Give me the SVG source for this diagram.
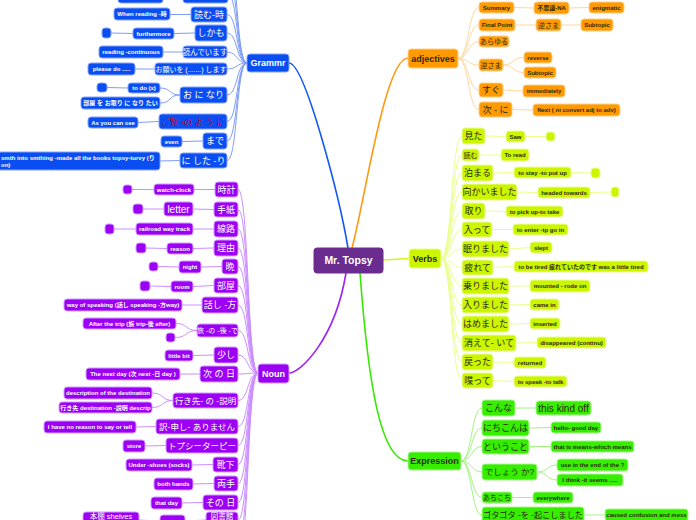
<svg xmlns="http://www.w3.org/2000/svg" width="696" height="520" viewBox="0 0 696 520">
<style>
text{font-family:"Liberation Sans","Noto Sans CJK JP",sans-serif;text-anchor:middle}
rect{rx:3;ry:3;stroke-width:1}
.gb{fill:#0a4ef2;stroke:#84a2fa}
.nb{fill:#9b00f5;stroke:#d49bff}
.ab{fill:#ff9a00;stroke:#ffd08a}
.vb{fill:#ccf500;stroke:#ecff99}
.eb{fill:#38ee00;stroke:#a8f790}
.cb{fill:#6a2c8e;stroke:#6a2c8e}
.w{fill:#fff}.d{fill:#2b2b10}.r{fill:#d8002a}
.s{font-size:6px;font-weight:bold}
.m{font-size:7.5px}
.l{font-size:9px}
.L{font-size:10px}
.h{font-size:9px;font-weight:bold}
.lc{fill:none;stroke-width:1}
.lg{stroke:#7f9cf6}.ln{stroke:#cc8eff}.la{stroke:#ffd69c}.lv{stroke:#eaff8c}.le{stroke:#a2f57e}
.mb{fill:none;stroke-width:1.6}
</style>
<g id="connectors">
<path class="mb" stroke="#1456f5" d="M348,248 C340,200 305,63 289,63"/>
<path class="mb" stroke="#ff9a10" d="M352,248 C365,200 385,58 408,58"/>
<path class="mb" stroke="#a020f5" d="M346,273 C335,340 300,373 289,373"/>
<path class="mb" stroke="#38e800" d="M360,273 C368,380 380,461 408,461"/>
<path class="mb" stroke="#d4f520" d="M383,260 L409,258.5"/>
<g class="lc lg">
<path d="M247,63 C236,63 238,-45 227,-45"/><path d="M247,63 C236,63 238,-25 227,-25"/><path d="M247,63 C236,63 238,-5 228,-5"/>
<path d="M247,63 C236,63 238,14.5 227,14.5"/><path d="M247,63 C236,63 238,33 227,33"/><path d="M247,63 C236,63 238,52 227,52"/><path d="M247,63 C236,63 238,69 227,69"/><path d="M247,63 C236,63 238,95 227,95"/><path d="M247,63 C236,63 238,121.5 227,121.5"/><path d="M247,63 C236,63 238,141 227,141"/><path d="M247,63 C236,63 238,160.5 227,160.5"/>
<path d="M183,-5 L163,-3.5"/><path d="M191,14.5 L170,14.5"/><path d="M195,33 L174,33.5"/><path d="M133,33.5 L111,33"/><path d="M183,52 L163,52"/><path d="M155,69 L135,69"/>
<path d="M180,95 C168,95 172,88 160,88"/><path d="M180,95 C168,95 172,103 160,103"/><path d="M128,88 L107,87.5"/>
<path d="M159,121.5 L138,122.5"/><path d="M203,141 L182,141.5"/><path d="M180,160.5 L160,161"/>
</g>
<g class="lc ln">
<path d="M258,373 C247,373 249,189.5 238,189.5"/><path d="M258,373 C247,373 249,209.5 238,209.5"/><path d="M258,373 C247,373 249,229 238,229"/><path d="M258,373 C247,373 249,248 238,248"/><path d="M258,373 C247,373 249,266.5 238,266.5"/><path d="M258,373 C247,373 249,285.5 238,285.5"/><path d="M258,373 C247,373 249,305 238,305"/><path d="M258,373 C247,373 249,330.5 238,330.5"/><path d="M258,373 C247,373 249,355 238,355"/><path d="M258,373 C247,373 249,374 238,374"/><path d="M258,373 C247,373 249,400.5 238,400.5"/><path d="M258,373 C247,373 249,426.5 238,426.5"/><path d="M258,373 C247,373 249,445.5 238,445.5"/><path d="M258,373 C247,373 249,464.5 238,464.5"/><path d="M258,373 C247,373 249,483.5 238,483.5"/><path d="M258,373 C247,373 249,502.5 238,502.5"/><path d="M258,373 C247,373 249,520 238,520"/><path d="M258,373 C247,373 249,540 238,540"/><path d="M258,373 C247,373 249,560 238,560"/>
<path d="M215,189.5 L194,189.5"/><path d="M154,189.5 L132,189.5"/>
<path d="M214,209.5 L193,209"/><path d="M164,209 L143,209"/>
<path d="M214,229 L193,229"/><path d="M136,229 L114,229"/>
<path d="M214,248 L193,248.5"/><path d="M167,248.5 L146,248"/>
<path d="M222,266.5 L201,267"/><path d="M179,267 L158,266.5"/>
<path d="M214,285.5 L193,286.5"/><path d="M171,286.5 L150,286"/>
<path d="M202,305 L182,305"/>
<path d="M197,330.5 C185,330.5 188,323.5 176,323.5"/><path d="M197,330.5 C185,330.5 188,337.5 175,337.5"/>
<path d="M214,355 L193,355.5"/><path d="M200,374 L180,374"/>
<path d="M173,400.5 C161,400.5 164,393 152,393"/><path d="M173,400.5 C161,400.5 164,407.5 152,407.5"/>
<path d="M156,426.5 L136,427"/><path d="M166,445.5 L145,446"/><path d="M213,464.5 L192,465"/><path d="M214,483.5 L193,484"/><path d="M203,502.5 L182,503"/>
<path d="M206,520 L185,521"/><path d="M160,521 L139,520"/>
</g>
<g class="lc la">
<path d="M458,58.5 C469,58.5 468,7.5 479,7.5"/><path d="M458,58.5 C469,58.5 468,25 479,25"/><path d="M458,58.5 C469,58.5 468,41.5 479,41.5"/><path d="M458,58.5 C469,58.5 468,65 479,65"/><path d="M458,58.5 C469,58.5 468,90 479,90"/><path d="M458,58.5 C469,58.5 468,109.5 479,109.5"/>
<path d="M514,7.5 L534,8"/><path d="M569,8 L589,7.5"/><path d="M515,25 L536,25"/><path d="M561,25 L581,25"/>
<path d="M503,65 C514,65 512,57.5 524,57.5"/><path d="M503,65 C514,65 512,72.5 524,72.5"/>
<path d="M503,90 L523,91"/><path d="M512,109.5 L533,110"/>
</g>
<g class="lc lv">
<path d="M441,258.5 C452,258.5 451,136 462,136"/><path d="M441,258.5 C452,258.5 451,155 462,155"/><path d="M441,258.5 C452,258.5 451,173 462,173"/><path d="M441,258.5 C452,258.5 451,192 462,192"/><path d="M441,258.5 C452,258.5 451,211 462,211"/><path d="M441,258.5 C452,258.5 451,229.5 462,229.5"/><path d="M441,258.5 C452,258.5 451,249 462,249"/><path d="M441,258.5 C452,258.5 451,267.5 462,267.5"/><path d="M441,258.5 C452,258.5 451,286 462,286"/><path d="M441,258.5 C452,258.5 451,305 462,305"/><path d="M441,258.5 C452,258.5 451,324 462,324"/><path d="M441,258.5 C452,258.5 451,343 462,343"/><path d="M441,258.5 C452,258.5 451,362 462,362"/><path d="M441,258.5 C452,258.5 451,380.5 462,380.5"/>
<path d="M485,136 L506,136.5"/><path d="M525,136.5 L546,136.5"/><path d="M479,155 L501,155"/><path d="M493,173 L514,172.5"/><path d="M571,172.5 L591,173"/><path d="M517,192 L538,192.5"/><path d="M590,192.5 L611,192"/><path d="M485,211 L506,211.5"/><path d="M492,229.5 L513,229.5"/><path d="M509,249 L530,247.5"/><path d="M493,267.5 L514,266.5"/><path d="M509,286 L530,286"/><path d="M509,305 L530,304.5"/><path d="M509,324 L530,323.5"/><path d="M516,343 L537,342.5"/><path d="M493,362 L514,362.5"/><path d="M493,380.5 L514,381.5"/>
</g>
<g class="lc le">
<path d="M461,461 C472,461 471,408 482,408"/><path d="M461,461 C472,461 471,428 482,428"/><path d="M461,461 C472,461 471,446.5 482,446.5"/><path d="M461,461 C472,461 471,472 482,472"/><path d="M461,461 C472,461 471,497.5 482,497.5"/><path d="M461,461 C472,461 471,515 482,515"/>
<path d="M515,408 L536,408"/><path d="M529,428 L551,427.5"/><path d="M529,446.5 L551,446.5"/>
<path d="M537,472 C548,472 546,465 557,465"/><path d="M537,472 C548,472 546,480 557,480"/>
<path d="M512,497.5 L533,497.5"/><path d="M584,515 L605,515"/>
</g>
</g>
<g id="center"><rect class="cb" x="314" y="248" width="69" height="25" rx="4"/><text class="w" x="348.5" y="264" font-size="10.5" font-weight="bold">Mr. Topsy</text></g>
<g id="grammar"><rect class="gb" x="247" y="54" width="42" height="18"/><text class="w h" x="268" y="66.2">Grammr</text></g>
<g id="g-top1"><rect class="gb" x="183" y="-13" width="45" height="16"/></g>
<g id="g-top2"><rect class="gb" x="118" y="-10" width="45" height="13"/></g>
<g id="g1"><rect class="gb" x="191" y="7" width="36" height="15"/><text class="w l" x="209" y="17.8">読む-時</text></g>
<g id="g1a"><rect class="gb" x="114" y="8" width="56" height="12"/><text class="w s" x="142" y="16.1">When reading -時</text></g>
<g id="g2"><rect class="gb" x="195" y="25" width="32" height="16"/><text class="w l" x="211" y="36.2">しかも</text></g>
<g id="g2a"><rect class="gb" x="133" y="28" width="41" height="11"/><text class="w s" x="153.5" y="35.6">furthermore</text></g>
<g id="g2b"><rect class="gb" x="102" y="28" width="9" height="10"/></g>
<g id="g3"><rect class="gb" x="183" y="46" width="44" height="12"/><text class="w m" x="205" y="54.6">読んでいます</text></g>
<g id="g3a"><rect class="gb" x="99" y="46" width="64" height="12"/><text class="w s" x="131" y="54.1">reading -continuous</text></g>
<g id="g4"><rect class="gb" x="155" y="63" width="72" height="12"/><text class="w" font-size="7" x="191" y="71.5">お願いを (.......) します</text></g>
<g id="g4a"><rect class="gb" x="88" y="63" width="47" height="12"/><text class="w s" x="111.5" y="71.1">please do .....</text></g>
<g id="g5"><rect class="gb" x="180" y="87" width="47" height="16"/><text class="w l" x="203.5" y="98.2">お に なり</text></g>
<g id="g5a"><rect class="gb" x="128" y="83" width="32" height="10"/><text class="w s" x="144" y="90.1">to do (x)</text></g>
<g id="g5b"><rect class="gb" x="97" y="83" width="10" height="9"/></g>
<g id="g5c"><rect class="gb" x="81" y="97" width="79" height="12"/><text class="w s" x="120.5" y="105.1">部屋 を お取り に なり たい</text></g>
<g id="g6"><rect class="gb" x="159" y="114" width="68" height="15"/><text class="r" font-size="8.5" x="193" y="124.5">ご覧 -の よ う に</text></g>
<g id="g6a"><rect class="gb" x="88" y="117" width="50" height="11"/><text class="w s" x="113" y="124.6">As you can see</text></g>
<g id="g7"><rect class="gb" x="203" y="133" width="24" height="16"/><text class="w l" x="215" y="144.2">まで</text></g>
<g id="g7a"><rect class="gb" x="161" y="136" width="21" height="11"/><text class="w s" x="171.5" y="143.6">even</text></g>
<g id="g8"><rect class="gb" x="180" y="153" width="47" height="15"/><text class="w l" x="203.5" y="163.8">に した -り</text></g>
<g id="g8a"><rect class="gb" x="-10" y="152" width="170" height="18"/><text class="w s" x="1" y="159.5" style="text-anchor:start">smth into smthing -made all the books topsy-turvy  (り</text><text class="w s" x="1" y="167" style="text-anchor:start">on)</text></g>
<g id="noun"><rect class="nb" x="258" y="364" width="31" height="19"/><text class="w h" x="273.5" y="376.7">Noun</text></g>
<g id="n1"><rect class="nb" x="215" y="182" width="23" height="15"/><text class="w l" x="226.5" y="192.8">時計</text></g>
<g id="n1a"><rect class="nb" x="154" y="184" width="40" height="11"/><text class="w s" x="174" y="191.6">watch-clock</text></g>
<g id="n1b"><rect class="nb" x="123" y="185" width="9" height="9"/></g>
<g id="n2"><rect class="nb" x="214" y="202" width="24" height="15"/><text class="w l" x="226" y="212.8">手紙</text></g>
<g id="n2a"><rect class="nb" x="164" y="202" width="29" height="14"/><text class="w L" x="178.5" y="212.5">letter</text></g>
<g id="n2b"><rect class="nb" x="133" y="204" width="10" height="10"/></g>
<g id="n3"><rect class="nb" x="214" y="221" width="24" height="16"/><text class="w l" x="226" y="232.2">線路</text></g>
<g id="n3a"><rect class="nb" x="136" y="223" width="57" height="12"/><text class="w s" x="164.5" y="231.1">railroad way track</text></g>
<g id="n3b"><rect class="nb" x="105" y="224" width="9" height="10"/></g>
<g id="n4"><rect class="nb" x="214" y="240" width="24" height="16"/><text class="w l" x="226" y="251.2">理由</text></g>
<g id="n4a"><rect class="nb" x="167" y="243" width="26" height="11"/><text class="w s" x="180" y="250.6">reason</text></g>
<g id="n4b"><rect class="nb" x="136" y="243" width="10" height="10"/></g>
<g id="n5"><rect class="nb" x="222" y="259" width="16" height="15"/><text class="w l" x="230" y="269.8">晩</text></g>
<g id="n5a"><rect class="nb" x="179" y="261" width="22" height="12"/><text class="w s" x="190" y="269.1">night</text></g>
<g id="n5b"><rect class="nb" x="149" y="262" width="9" height="9"/></g>
<g id="n6"><rect class="nb" x="214" y="278" width="24" height="15"/><text class="w l" x="226" y="288.8">部屋</text></g>
<g id="n6a"><rect class="nb" x="171" y="281" width="22" height="11"/><text class="w s" x="182" y="288.6">room</text></g>
<g id="n6b"><rect class="nb" x="140" y="281" width="10" height="10"/></g>
<g id="n7"><rect class="nb" x="202" y="297" width="36" height="16"/><text class="w l" x="220" y="308.2">話し -方</text></g>
<g id="n7a"><rect class="nb" x="64" y="299" width="118" height="12"/><text class="w s" x="123" y="307.1">way of speaking (話し speaking -方way)</text></g>
<g id="n8"><rect class="nb" x="197" y="324" width="41" height="13"/><text class="w" font-size="7" x="217.5" y="333">旅 -の -後 -で</text></g>
<g id="n8a"><rect class="nb" x="83" y="318" width="93" height="11"/><text class="w s" x="129.5" y="325.6">After the trip (旅 trip-後 after)</text></g>
<g id="n8b"><rect class="nb" x="166" y="333" width="9" height="9"/></g>
<g id="n9"><rect class="nb" x="214" y="347" width="24" height="16"/><text class="w l" x="226" y="358.2">少し</text></g>
<g id="n9a"><rect class="nb" x="165" y="350" width="28" height="11"/><text class="w s" x="179" y="357.6">little bit</text></g>
<g id="n10"><rect class="nb" x="200" y="366" width="38" height="16"/><text class="w l" x="219" y="377.2">次 の 日</text></g>
<g id="n10a"><rect class="nb" x="86" y="368" width="94" height="12"/><text class="w s" x="133" y="376.1">The next day (次 next -日 day )</text></g>
<g id="n11"><rect class="nb" x="173" y="393" width="65" height="15"/><text class="w" font-size="8.5" x="205.5" y="403.5">行き先- の -説明</text></g>
<g id="n11a"><rect class="nb" x="64" y="387" width="88" height="12"/><text class="w s" x="108" y="395.1">description of the destination</text></g>
<g id="n11b"><rect class="nb" x="59" y="402" width="93" height="11"/><text class="w s" x="105.5" y="409.6">行き先 destination -説明 descrip</text></g>
<g id="n12"><rect class="nb" x="156" y="419" width="82" height="15"/><text class="w" font-size="8.5" x="197" y="429.5">訳-申し- ありません</text></g>
<g id="n12a"><rect class="nb" x="44" y="421" width="92" height="12"/><text class="w s" x="90" y="429.1">I have no reason to say or tell</text></g>
<g id="n13"><rect class="nb" x="166" y="438" width="72" height="15"/><text class="w" font-size="8.5" x="202" y="448.5">トプシーターピー</text></g>
<g id="n13a"><rect class="nb" x="123" y="440" width="22" height="12"/><text class="w s" x="134" y="448.1">store</text></g>
<g id="n14"><rect class="nb" x="213" y="457" width="25" height="15"/><text class="w l" x="225.5" y="467.8">靴下</text></g>
<g id="n14a"><rect class="nb" x="126" y="459" width="66" height="12"/><text class="w s" x="159" y="467.1">Under -shoes (socks)</text></g>
<g id="n15"><rect class="nb" x="214" y="476" width="24" height="15"/><text class="w l" x="226" y="486.8">両手</text></g>
<g id="n15a"><rect class="nb" x="154" y="478" width="39" height="12"/><text class="w s" x="173.5" y="486.1">both hands</text></g>
<g id="n16"><rect class="nb" x="203" y="495" width="35" height="15"/><text class="w l" x="220.5" y="505.8">その 日</text></g>
<g id="n16a"><rect class="nb" x="151" y="497" width="31" height="12"/><text class="w s" x="166.5" y="505.1">that day</text></g>
<g id="n17"><rect class="nb" x="206" y="512" width="32" height="16"/><text class="w" font-size="7.5" x="222" y="518.6">図書館</text></g>
<g id="n17a"><rect class="nb" x="160" y="515" width="25" height="12"/></g>
<g id="n17b"><rect class="nb" x="83" y="512" width="56" height="16"/><text class="w" font-size="7.5" x="111" y="518.6">本棚 shelves</text></g>
<g id="adjectives"><rect class="ab" x="408" y="49" width="50" height="19"/><text class="d h" x="433" y="61.7">adjectives</text></g>
<g id="a1"><rect class="ab" x="479" y="2" width="35" height="11"/><text class="d s" x="496.5" y="9.6">Summary</text></g>
<g id="a1a"><rect class="ab" x="534" y="2" width="35" height="12"/><text class="d s" x="551.5" y="10.1">不思議-NA</text></g>
<g id="a1b"><rect class="ab" x="589" y="2" width="35" height="11"/><text class="d s" x="606.5" y="9.6">enigmatic</text></g>
<g id="a2"><rect class="ab" x="479" y="19" width="36" height="12"/><text class="d s" x="497" y="27.1">Final Point</text></g>
<g id="a2a"><rect class="ab" x="536" y="19" width="25" height="12"/><text class="d" font-size="7" x="548.5" y="27.5">逆さま</text></g>
<g id="a2b"><rect class="ab" x="581" y="19" width="32" height="12"/><text class="d s" x="597" y="27.1">Subtopic</text></g>
<g id="a3"><rect class="ab" x="479" y="36" width="30" height="11"/><text class="d" font-size="7" x="494" y="44">あらゆる</text></g>
<g id="a4"><rect class="ab" x="479" y="59" width="24" height="12"/><text class="d" font-size="7" x="491" y="67.5">逆さま</text></g>
<g id="a4a"><rect class="ab" x="524" y="52" width="28" height="11"/><text class="d s" x="538" y="59.6">reverse</text></g>
<g id="a4b"><rect class="ab" x="524" y="67" width="32" height="11"/><text class="d s" x="540" y="74.6">Subtopic</text></g>
<g id="a5"><rect class="ab" x="479" y="83" width="24" height="14"/><text class="d l" x="491" y="93.2">すぐ</text></g>
<g id="a5a"><rect class="ab" x="523" y="85" width="42" height="12"/><text class="d s" x="544" y="93.1">immediately</text></g>
<g id="a6"><rect class="ab" x="479" y="102" width="33" height="15"/><text class="d l" x="495.5" y="112.8">次 - に</text></g>
<g id="a6a"><rect class="ab" x="533" y="104" width="87" height="12"/><text class="d s" x="576.5" y="112.1">Next ( ni convert adj to adv)</text></g>
<g id="verbs"><rect class="vb" x="409" y="249" width="32" height="19"/><text class="d h" x="425" y="261.7">Verbs</text></g>
<g id="v1"><rect class="vb" x="462" y="128" width="23" height="16"/><text class="d l" x="473.5" y="139.2">見た</text></g>
<g id="v1a"><rect class="vb" x="506" y="131" width="19" height="11"/><text class="d s" x="515.5" y="138.6">Saw</text></g>
<g id="v1b"><rect class="vb" x="546" y="132" width="9" height="9"/></g>
<g id="v2"><rect class="vb" x="462" y="149" width="17" height="12"/><text class="d" font-size="7" x="470.5" y="157.5">読む</text></g>
<g id="v2a"><rect class="vb" x="501" y="149" width="28" height="12"/><text class="d s" x="515" y="157.1">To read</text></g>
<g id="v3"><rect class="vb" x="462" y="165" width="31" height="16"/><text class="d l" x="477.5" y="176.2">泊まる</text></g>
<g id="v3a"><rect class="vb" x="514" y="167" width="57" height="11"/><text class="d s" x="542.5" y="174.6">to stay -to put up</text></g>
<g id="v3b"><rect class="vb" x="591" y="168" width="9" height="10"/></g>
<g id="v4"><rect class="vb" x="462" y="184" width="55" height="16"/><text class="d l" x="489.5" y="195.2">向かいました</text></g>
<g id="v4a"><rect class="vb" x="538" y="187" width="52" height="11"/><text class="d s" x="564" y="194.6">headed towards</text></g>
<g id="v4b"><rect class="vb" x="611" y="187" width="8" height="10"/></g>
<g id="v5"><rect class="vb" x="462" y="203" width="23" height="16"/><text class="d l" x="473.5" y="214.2">取り</text></g>
<g id="v5a"><rect class="vb" x="506" y="206" width="57" height="11"/><text class="d s" x="534.5" y="213.6">to pick up-to take</text></g>
<g id="v6"><rect class="vb" x="462" y="222" width="30" height="15"/><text class="d l" x="477" y="232.8">入って</text></g>
<g id="v6a"><rect class="vb" x="513" y="224" width="55" height="11"/><text class="d s" x="540.5" y="231.6">to enter -tp go in</text></g>
<g id="v7"><rect class="vb" x="462" y="241" width="47" height="16"/><text class="d l" x="485.5" y="252.2">眠りました</text></g>
<g id="v7a"><rect class="vb" x="530" y="242" width="22" height="11"/><text class="d s" x="541" y="249.6">slept</text></g>
<g id="v8"><rect class="vb" x="462" y="260" width="31" height="15"/><text class="d l" x="477.5" y="270.8">疲れて</text></g>
<g id="v8a"><rect class="vb" x="514" y="261" width="134" height="11"/><text class="d s" x="581" y="268.6">to be tired 疲れていたのです  was a little tired</text></g>
<g id="v9"><rect class="vb" x="462" y="278" width="47" height="16"/><text class="d l" x="485.5" y="289.2">乗りました</text></g>
<g id="v9a"><rect class="vb" x="530" y="280" width="60" height="12"/><text class="d s" x="560" y="288.1">mounted - rode on</text></g>
<g id="v10"><rect class="vb" x="462" y="297" width="47" height="16"/><text class="d l" x="485.5" y="308.2">入りました</text></g>
<g id="v10a"><rect class="vb" x="530" y="299" width="29" height="11"/><text class="d s" x="544.5" y="306.6">came in</text></g>
<g id="v11"><rect class="vb" x="462" y="316" width="47" height="16"/><text class="d l" x="485.5" y="327.2">はめました</text></g>
<g id="v11a"><rect class="vb" x="530" y="318" width="30" height="11"/><text class="d s" x="545" y="325.6">inserted</text></g>
<g id="v12"><rect class="vb" x="462" y="335" width="54" height="16"/><text class="d l" x="489" y="346.2">消えて- いて</text></g>
<g id="v12a"><rect class="vb" x="537" y="337" width="69" height="11"/><text class="d s" x="571.5" y="344.6">disappeared (continu)</text></g>
<g id="v13"><rect class="vb" x="462" y="354" width="31" height="16"/><text class="d l" x="477.5" y="365.2">戻った</text></g>
<g id="v13a"><rect class="vb" x="514" y="357" width="32" height="11"/><text class="d s" x="530" y="364.6">returned</text></g>
<g id="v14"><rect class="vb" x="462" y="373" width="31" height="15"/><text class="d l" x="477.5" y="383.8">喋って</text></g>
<g id="v14a"><rect class="vb" x="514" y="376" width="53" height="11"/><text class="d s" x="540.5" y="383.6">to speak -to talk</text></g>
<g id="expression"><rect class="eb" x="408" y="452" width="53" height="18"/><text class="d h" x="434.5" y="464.2">Expression</text></g>
<g id="e1"><rect class="eb" x="482" y="400" width="33" height="16"/><text class="d l" x="498.5" y="411.2">こんな</text></g>
<g id="e1a"><rect class="eb" x="536" y="401" width="55" height="14"/><text class="d L" x="563.5" y="411.5">this kind off</text></g>
<g id="e2"><rect class="eb" x="482" y="420" width="47" height="16"/><text class="d l" x="505.5" y="431.2">にちこんは</text></g>
<g id="e2a"><rect class="eb" x="551" y="422" width="50" height="11"/><text class="d s" x="576" y="429.6">hello- good day</text></g>
<g id="e3"><rect class="eb" x="482" y="439" width="47" height="15"/><text class="d l" x="505.5" y="449.8">ということ</text></g>
<g id="e3a"><rect class="eb" x="551" y="441" width="83" height="11"/><text class="d s" x="592.5" y="448.6">that is means-which means</text></g>
<g id="e4"><rect class="eb" x="482" y="464" width="55" height="16"/><text class="d" font-size="8.5" x="509.5" y="475">でしょう か?</text></g>
<g id="e4a"><rect class="eb" x="557" y="459" width="71" height="12"/><text class="d s" x="592.5" y="467.1">use in the end of the ?</text></g>
<g id="e4b"><rect class="eb" x="557" y="474" width="66" height="12"/><text class="d s" x="590" y="482.1">I think -it seems .....</text></g>
<g id="e5"><rect class="eb" x="482" y="492" width="30" height="11"/><text class="d" font-size="7" x="497" y="500">あちこち</text></g>
<g id="e5a"><rect class="eb" x="533" y="492" width="40" height="11"/><text class="d s" x="553" y="499.6">everywhere</text></g>
<g id="e6"><rect class="eb" x="482" y="507" width="102" height="16"/><text class="d" font-size="8.2" x="533" y="518">ゴタゴタ -を -起こしました</text></g>
<g id="e6a"><rect class="eb" x="605" y="509" width="83" height="12"/><text class="d s" x="646.5" y="517.1">caused confusion and mess</text></g>
</svg>
